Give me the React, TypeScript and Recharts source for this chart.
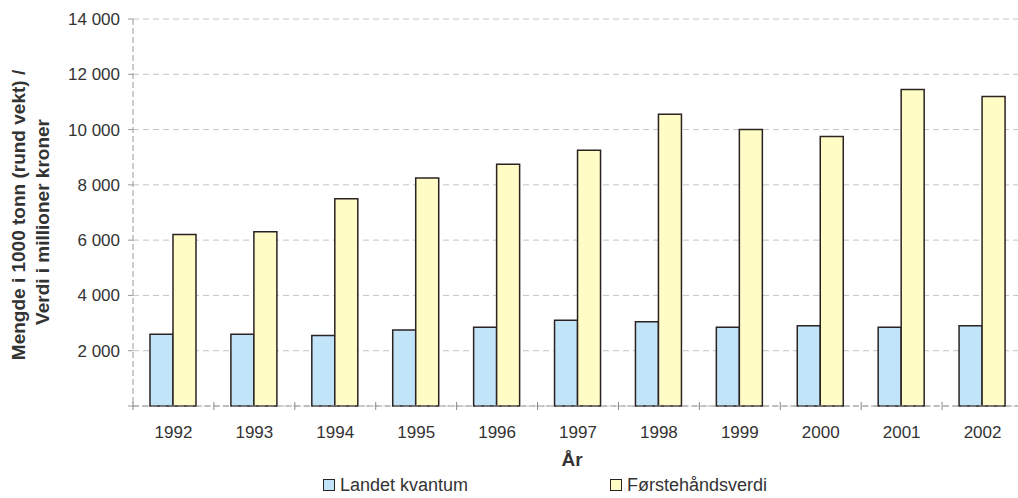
import React from 'react';
import { BarChart, Bar, XAxis, YAxis, CartesianGrid, Legend, Label } from 'recharts';

// Landet kvantum og førstehåndsverdi, 1992-2002
const years = ['1992', '1993', '1994', '1995', '1996', '1997', '1998', '1999', '2000', '2001', '2002'];
const landetKvantum = [2600, 2600, 2550, 2750, 2850, 3100, 3050, 2850, 2900, 2850, 2900];
const forstehandsverdi = [6200, 6300, 7500, 8250, 8750, 9250, 10550, 10000, 9750, 11450, 11200];
const yTicks = [0, 2000, 4000, 6000, 8000, 10000, 12000, 14000];

const data = years.map((year, i) => ({
    year,
    kvantum: landetKvantum[i],
    verdi: forstehandsverdi[i],
}));

const FONT = '"Liberation Sans", Arial, sans-serif';
const TEXT = '#333333';
const BLUE = '#c2e4f8';
const YELLOW = '#fffcc6';
const EDGE = '#2b2222';
const GRID = '#c4c4c4';

const formatThousands = (v: number) =>
    v === 0 ? '' : String(v).replace(/\B(?=(\d{3})+(?!\d))/g, ' ');

// x tick: year label plus a small mark at the category boundary
const YearTick = (props: any) => {
    const { x, y, payload, index } = props;
    const half = payload?.offset ?? 40.5;
    return (
        <g>
            <line x1={x - half} x2={x - half} y1={y - 4} y2={y + 4} stroke="#888" />
            {index === years.length - 1 && (
                <line x1={x + half} x2={x + half} y1={y - 4} y2={y + 4} stroke="#888" />
            )}
            <text x={x} y={y + 32} textAnchor="middle" fill={TEXT} fontSize={17} fontFamily={FONT}>
                {payload.value}
            </text>
        </g>
    );
};

const YTitle = () => (
    <g fill={TEXT} fontSize={19} fontWeight="bold" fontFamily={FONT}>
        <text x={25} y={215} textAnchor="middle" transform="rotate(-90 25 215)">
            Mengde i 1000 tonn (rund vekt) /
        </text>
        <text x={49} y={222} textAnchor="middle" transform="rotate(-90 49 222)">
            Verdi i millioner kroner
        </text>
    </g>
);

const XTitle = (props: any) => {
    const { viewBox } = props;
    const cx = viewBox.x + viewBox.width / 2;
    return (
        <text x={cx - 6} y={466} textAnchor="middle" fill={TEXT} fontSize={19} fontWeight="bold" fontFamily={FONT}>
            År
        </text>
    );
};

const legendItems = [
    { label: 'Landet kvantum', color: BLUE, left: 323 },
    { label: 'Førstehåndsverdi', color: YELLOW, left: 610 },
];

const LegendContent = () => (
    <div style={{ position: 'relative', height: 30, width: 1026, fontFamily: FONT, fontSize: 18, color: TEXT }}>
        {legendItems.map((item) => (
            <div
                key={item.label}
                style={{ position: 'absolute', left: item.left, top: 7, display: 'flex', alignItems: 'center', lineHeight: '20px' }}
            >
                <span
                    style={{
                        display: 'inline-block',
                        width: 10,
                        height: 10,
                        background: item.color,
                        border: `1px solid ${EDGE}`,
                        marginRight: 5,
                    }}
                />
                {item.label}
            </div>
        ))}
    </div>
);

export default function App() {
    return (
        <div style={{ position: 'absolute', left: 0, top: 0, width: 1018, height: 498, overflow: 'hidden', background: '#fff' }}>
            <BarChart
                width={1026}
                height={498}
                data={data}
                margin={{ top: 19, right: 3, left: 0, bottom: 0 }}
                barCategoryGap="21%"
                barGap={0}
            >
                <CartesianGrid vertical={false} stroke={GRID} strokeDasharray="6 4" />
                <XAxis
                    dataKey="year"
                    height={62}
                    tick={<YearTick />}
                    tickLine={false}
                    tickSize={0}
                    tickMargin={0}
                    axisLine={{ stroke: '#999', strokeDasharray: '6 3' }}
                    interval={0}
                >
                    <Label content={<XTitle />} />
                </XAxis>
                <YAxis
                    width={133}
                    domain={[0, 14000]}
                    ticks={yTicks}
                    interval={0}
                    tickFormatter={formatThousands}
                    tick={{ fill: TEXT, fontSize: 17, fontFamily: FONT }}
                    tickSize={5}
                    tickMargin={8}
                    tickLine={{ stroke: '#999' }}
                    axisLine={{ stroke: '#999', strokeDasharray: '6 3' }}
                >
                    <Label content={<YTitle />} />
                </YAxis>
                <Legend verticalAlign="bottom" height={30} content={<LegendContent />} wrapperStyle={{ left: 0, bottom: 0 }} />
                <Bar dataKey="kvantum" name="Landet kvantum" fill={BLUE} stroke={EDGE} strokeWidth={1.5} isAnimationActive={false} />
                <Bar dataKey="verdi" name="Førstehåndsverdi" fill={YELLOW} stroke={EDGE} strokeWidth={1.5} isAnimationActive={false} />
            </BarChart>
        </div>
    );
}
